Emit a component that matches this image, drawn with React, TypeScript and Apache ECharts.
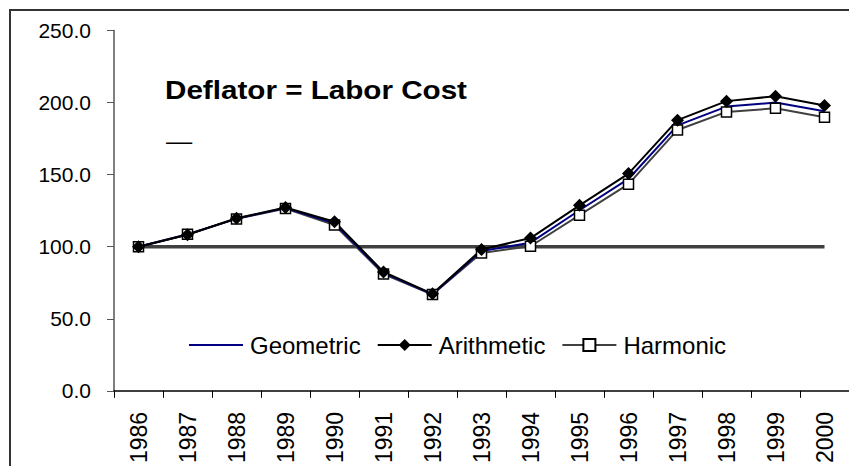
import React, { useEffect, useRef } from "react";
import * as echarts from "echarts";

const years = ["1986","1987","1988","1989","1990","1991","1992","1993","1994","1995","1996","1997","1998","1999","2000"];
const geometric = [100, 108.5, 119.5, 126.8, 116.2, 81.8, 67, 97, 102.8, 125.3, 147, 184.2, 197.2, 200, 194];
const arithmetic = [100, 108.3, 119.7, 127.2, 117.3, 82.5, 67.3, 98, 106, 128.7, 150.7, 187.8, 201, 204.4, 198];
const harmonic = [100, 108.6, 119.3, 126.5, 115, 81, 66.8, 95.7, 100.3, 121.9, 143.4, 181, 193.5, 196, 189.8];
const baseline = [100, 100, 100, 100, 100, 100, 100, 100, 100, 100, 100, 100, 100, 100, 100];
const titleText = "Deflator = Labor Cost";
const FONT = "'Liberation Sans', Arial, sans-serif";

export default function App() {
  const ref = useRef<HTMLDivElement>(null);
  useEffect(() => {
    if (!ref.current) return;
    const chart = echarts.init(ref.current, undefined, { renderer: "svg" });
    chart.setOption({
      animation: false,
      backgroundColor: "#ffffff",
      textStyle: { fontFamily: FONT },
      grid: { left: 114, top: 30.5, width: 745, height: 366.5, containLabel: false },
      xAxis: {
        type: "category",
        data: years,
        boundaryGap: true,
        axisLine: { lineStyle: { color: "#000", width: 1.5 } },
        axisTick: { show: true, length: 7, lineStyle: { color: "#000", width: 1 } },
        axisLabel: { rotate: 90, margin: 21, fontSize: 23, color: "#000", fontFamily: FONT },
        splitLine: { show: false },
      },
      yAxis: {
        type: "value",
        min: 0,
        max: 250,
        interval: 50,
        axisLine: { show: true, lineStyle: { color: "#555", width: 1.5 } },
        axisTick: { show: true, length: 7, lineStyle: { color: "#555" } },
        axisLabel: { margin: 23, fontSize: 21, color: "#000", fontFamily: FONT, formatter: (v: number) => v.toFixed(1) },
        splitLine: { show: false },
      },
      legend: {
        data: [
          { name: "Geometric", icon: "path://M0,0 H54 V2 H0 Z" },
          { name: "Arithmetic" },
          { name: "Harmonic" },
        ],
        left: 189,
        top: 333,
        padding: 0,
        itemWidth: 54,
        itemHeight: 15,
        itemGap: 16,
        textStyle: { fontSize: 24, color: "#000", fontFamily: FONT, padding: [0, 0, 0, 2] },
      },
      series: [
        {
          name: "Base",
          type: "line",
          data: baseline,
          symbol: "none",
          lineStyle: { color: "#404040", width: 3.5 },
          silent: true,
        },
        {
          name: "Harmonic",
          type: "line",
          data: harmonic,
          symbol: "rect",
          symbolSize: 10,
          itemStyle: { color: "#ffffff", borderColor: "#000", borderWidth: 1.5 },
          lineStyle: { color: "#404040", width: 2 },
        },
        {
          name: "Geometric",
          type: "line",
          data: geometric,
          symbol: "none",
          itemStyle: { color: "#000080" },
          lineStyle: { color: "#000080", width: 2 },
        },
        {
          name: "Arithmetic",
          type: "line",
          data: arithmetic,
          symbol: "diamond",
          symbolSize: 13,
          itemStyle: { color: "#000" },
          lineStyle: { color: "#000", width: 2 },
        },
      ],
      graphic: [
        {
          type: "rect",
          shape: { x: 10, y: 10, width: 900, height: 500 },
          style: { fill: "none", stroke: "#333", lineWidth: 2 },
          z: 100,
        },
        {
          type: "text",
          x: 165,
          y: 90,
          scaleX: 1.14,
          style: { text: titleText, font: `bold 26px ${FONT}`, fill: "#000", textVerticalAlign: "middle", textAlign: "left" },
        },
        {
          type: "text",
          x: 166,
          y: 141,
          scaleX: 1.14,
          style: { text: "—", font: `23px ${FONT}`, fill: "#000", textVerticalAlign: "middle", textAlign: "left" },
        },
      ],
    });
    return () => chart.dispose();
  }, []);
  return <div ref={ref} style={{ position: "absolute", left: 0, top: 0, width: 849, height: 466 }} />;
}
